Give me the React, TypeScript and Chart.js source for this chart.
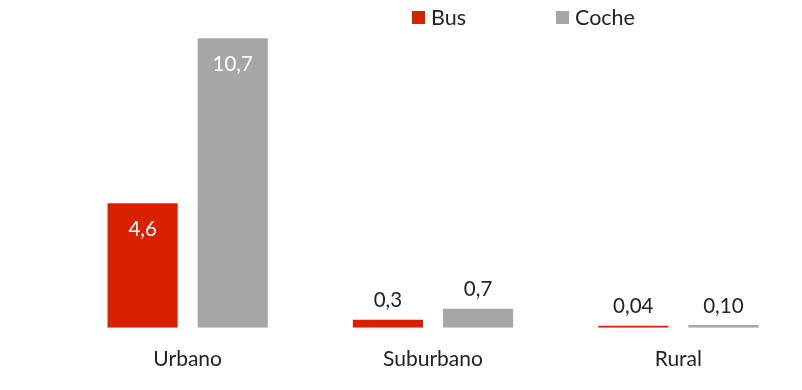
import React, { useEffect, useRef } from "react";
import { Chart, registerables } from "chart.js";

Chart.register(...registerables);

const categories = ["Urbano", "Suburbano", "Rural"];
const seriesNames = ["Bus", "Coche"];
const busValues = [4.6, 0.3, 0.04];
const cocheValues = [10.7, 0.7, 0.1];
const busLabels = ["4,6", "0,3", "0,04"];
const cocheLabels = ["10,7", "0,7", "0,10"];

const RED = "#D92100";
const GRAY = "#A6A6A6";
const TEXT = "#222222";
const FONT = "Lato, 'Open Sans', sans-serif";

const valueLabelPlugin = {
  id: "valueLabels",
  afterDatasetsDraw(chart: any) {
    const ctx = chart.ctx;
    const labelSets = [busLabels, cocheLabels];
    ctx.save();
    ctx.font = `20.5px ${FONT}`;
    ctx.textAlign = "center";
    ctx.textBaseline = "middle";
    chart.data.datasets.forEach((ds: any, di: number) => {
      const meta = chart.getDatasetMeta(di);
      meta.data.forEach((bar: any, i: number) => {
        const h = bar.base - bar.y;
        const text = labelSets[di][i];
        if (h > 60) {
          ctx.fillStyle = "#FFFFFF";
          ctx.fillText(text, bar.x, bar.y + 26);
        } else {
          ctx.fillStyle = TEXT;
          ctx.fillText(text, bar.x, bar.y - 19);
        }
      });
    });
    ctx.restore();
  },
};

const legendPlugin = {
  id: "customLegend",
  afterDraw(chart: any) {
    const ctx = chart.ctx;
    const items = [
      { x: 412, color: RED, label: seriesNames[0] },
      { x: 556, color: GRAY, label: seriesNames[1] },
    ];
    ctx.save();
    ctx.font = `21.5px ${FONT}`;
    ctx.textBaseline = "middle";
    ctx.textAlign = "left";
    items.forEach((it) => {
      ctx.fillStyle = it.color;
      ctx.fillRect(it.x, 11, 13, 13);
      ctx.fillStyle = TEXT;
      ctx.fillText(it.label, it.x + 19, 18);
    });
    ctx.restore();
  },
};

export default function App() {
  const ref = useRef<HTMLCanvasElement>(null);
  useEffect(() => {
    if (!ref.current) return;
    const chart = new Chart(ref.current, {
      type: "bar",
      data: {
        labels: categories,
        datasets: [
          {
            label: seriesNames[0],
            data: busValues,
            backgroundColor: RED,
            borderWidth: 0,
            minBarLength: 2,
          },
          {
            label: seriesNames[1],
            data: cocheValues,
            backgroundColor: GRAY,
            borderWidth: 0,
            minBarLength: 2,
          },
        ],
      },
      options: {
        animation: false,
        responsive: false,
        maintainAspectRatio: false,
        layout: { padding: { top: 3, left: 65, right: 1, bottom: 7 } },
        datasets: {
          bar: { categoryPercentage: 0.7347, barPercentage: 0.778 },
        },
        plugins: {
          legend: { display: false },
          tooltip: { enabled: false },
        },
        scales: {
          x: {
            grid: { display: false },
            border: { display: false },
            ticks: {
              color: TEXT,
              font: { family: FONT, size: 21 },
              padding: 11,
            },
          },
          y: {
            display: false,
            min: 0,
            max: 12,
          },
        },
      },
      plugins: [valueLabelPlugin, legendPlugin],
    });
    return () => chart.destroy();
  }, []);
  return (
    <div style={{ position: "absolute", left: 0, top: 0, width: 802, height: 390, background: "#fff" }}>
      <canvas ref={ref} width={802} height={390} style={{ width: 802, height: 390 }} />
    </div>
  );
}
